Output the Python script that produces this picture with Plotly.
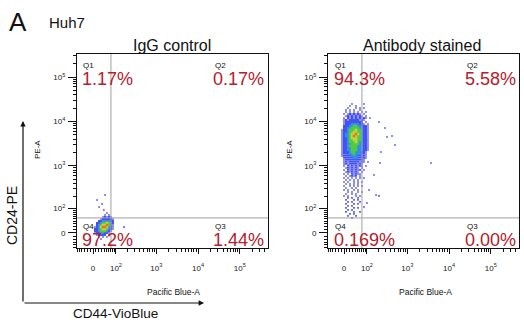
import numpy as np
import plotly.graph_objects as go

# ---------------------------------------------------------------- data
panel_titles = ["IgG control", "Antibody stained"]
quadrant_names = ["Q1", "Q2", "Q3", "Q4"]
igg_percent = ["1.17%", "0.17%", "1.44%", "97.2%"]
ab_percent = ["94.3%", "5.58%", "0.00%", "0.169%"]

# quadrant gate (fluorescence units)
gate_pacific_blue = 71
gate_pe = 53

major_tick_values = [0, 1e2, 1e3, 1e4, 1e5]
major_tick_text = ["0", "10<sup>2</sup>", "10<sup>3</sup>", "10<sup>4</sup>", "10<sup>5</sup>"]

# pseudo-colour density of the main populations, one character per bin
# ('.' empty, 1 = sparse ... 6 = densest); rows run from high PE to low PE
igg_density = [
    "......1.1...",
    ".....12121..",
    "....1222221.",
    "...22333322.",
    "..223445432.",
    "..234556431.",
    ".1235665321.",
    ".2234554321.",
    ".223444321..",
    ".12233221...",
    "..12222.1...",
    "...1.1.1....",
    "....1.......",
]

ab_density = [
    "......1.....1...",
    ".....1..1.......",
    "....1...1.1.1...",
    "...1.1.1..1.....",
    "...1.1.1.1.1.1..",
    "..1.1212121.1...",
    "...121212121.1..",
    "..1.2121212121..",
    "..12122222121...",
    "..1222222222.1..",
    "..12223333221.1.",
    "..2223344332221.",
    "..2233444433221.",
    ".12234445443221.",
    ".12234455443221.",
    ".12334556543221.",
    ".12334565443221.",
    ".12234555443221.",
    ".12234455443221.",
    ".12234445433221.",
    ".12233444433221.",
    ".12234444333221.",
    ".12233444333221.",
    ".12233444333221.",
    ".1222344333221..",
    ".1222334333221..",
    ".1222233322221..",
    "..222223322221..",
    "..12222222221...",
    "..12122222121.1.",
    "..1212222121....",
    "..1.21212121.1..",
    "...1212121.1....",
    "..1.2121212.1...",
    "...1212121.1....",
    "..1.1.21211.....",
    "...1.1212.1.....",
    "..1.1.1.1.1.1...",
    "...1.1.1.1......",
    "..1.1..1.1.1....",
    "...1.1.1.1......",
    "..1..1.1.1.1....",
    "...1..1.1.......",
    "..1.1..1.1......",
    "....1.1..1.1....",
    "...1..1.1.......",
    "..1.1...1.1.....",
    "....1.1..1......",
    "...1...1.1......",
    "....1.1...1.....",
    "...1...1.1......",
    "....1.1.........",
    "...1...1.1......",
    "....1.1.........",
    "...1...1..1.....",
    ".....1.1........",
    "....1...1.......",
    "......1.........",
]

# outlying single events (Pacific Blue-A, PE-A)
igg_outlier_pb = [44, 14, 32, 39, 52, 21, 164]
igg_outlier_pe = [216, 165, 131, 92, 76, 110, 19]
ab_outlier_pb = [207, 290, 325, 430, 508, 231, 219, 3700, 114, 174, 206, 100, 82, 121, 154]
ab_outlier_pe = [9700, 7110, 4460, 4700, 2940, 2050, 1160, 1160, 282, 216, 206, 139, 110, 11950, 620]

# ---------------------------------------------------------------- scales
W, H = 524, 324
BIEX_W = 30.7  # width of the linear region of the biexponential display


def biex(v):
    """Biexponential (arcsinh) display transform, in decades."""
    return np.arcsinh(np.asarray(v, dtype=float) / (2 * BIEX_W)) / np.log(10)


def px(x):
    return x / W


def py(y):
    return 1 - y / H


minor_vals = []
for dec in [1e2, 1e3, 1e4, 1e5]:
    for m in range(2, 10):
        minor_vals.append(m * dec)
for k in range(1, 10):
    minor_vals += [10 * k, -10 * k]

# pseudo-colour palette and dot size per density level
level_colors = {
    1: "#4646e6",
    2: "#2f3ff2",
    3: "#2f8ee8",
    4: "#52c84a",
    5: "#b9d83a",
    6: "#e8742e",
}
level_size = {1: 1.6, 2: 1.8, 3: 2.3, 4: 2.6, 5: 2.6, 6: 2.6}

# density bins: first-bin centre and bin width in display units
bin_dx = 0.0478
bin_dy = 0.0450
panels = [
    dict(density=igg_density, gx0=0.0, gy0=0.405,
         opb=igg_outlier_pb, ope=igg_outlier_pe, pct=igg_percent),
    dict(density=ab_density, gx0=-0.0957, gy0=2.905,
         opb=ab_outlier_pb, ope=ab_outlier_pe, pct=ab_percent),
]

x_range = [-0.383, 4.187]
y_range = [-0.338, 4.032]
box_left = [77, 328]
box_right = [268, 519]
box_top, box_bottom = 54, 248

fig = go.Figure()

for i, p in enumerate(panels):
    xa = "x" if i == 0 else "x2"
    ya = "y" if i == 0 else "y2"
    pts = {lv: ([], []) for lv in level_colors}
    for r, row in enumerate(p["density"]):
        for c, ch in enumerate(row):
            if ch == ".":
                continue
            pts[int(ch)][0].append(p["gx0"] + c * bin_dx)
            pts[int(ch)][1].append(p["gy0"] - r * bin_dy)
    # outlying events
    fig.add_trace(go.Scatter(
        x=biex(p["opb"]), y=biex(p["ope"]), mode="markers", xaxis=xa, yaxis=ya,
        marker=dict(symbol="square", size=level_size[1], color=level_colors[1], line_width=0),
        hoverinfo="skip", showlegend=False))
    for lv in sorted(level_colors):
        xs, ys = pts[lv]
        if not xs:
            continue
        fig.add_trace(go.Scatter(
            x=xs, y=ys, mode="markers", xaxis=xa, yaxis=ya,
            marker=dict(symbol="square", size=level_size[lv],
                        color=level_colors[lv], line_width=0),
            hoverinfo="skip", showlegend=False))

    # quadrant gate lines
    gx = float(biex(gate_pacific_blue))
    gy = float(biex(gate_pe))
    fig.add_trace(go.Scatter(x=[gx, gx], y=y_range, mode="lines", xaxis=xa, yaxis=ya,
                             line=dict(color="#a0a0a0", width=1),
                             hoverinfo="skip", showlegend=False))
    fig.add_trace(go.Scatter(x=x_range, y=[gy, gy], mode="lines", xaxis=xa, yaxis=ya,
                             line=dict(color="#a0a0a0", width=1),
                             hoverinfo="skip", showlegend=False))

axis_common = dict(
    showline=True, mirror=True, linecolor="#111", linewidth=1,
    showgrid=False, zeroline=False, ticks="outside", tickcolor="#111",
    tickmode="array", tickvals=list(biex(major_tick_values)), ticktext=major_tick_text,
    tickfont=dict(family="Liberation Sans", size=8, color="#222"),
    minor=dict(tickmode="array", tickvals=list(biex(minor_vals)), ticks="outside",
               ticklen=3, tickcolor="#111", tickwidth=1),
)

for i in range(2):
    sfx = "" if i == 0 else "2"
    fig.layout["xaxis" + sfx] = dict(
        axis_common, domain=[px(box_left[i]), px(box_right[i])], range=x_range,
        anchor="y" + sfx, ticklen=5, ticklabelstandoff=7)
    fig.layout["yaxis" + sfx] = dict(
        axis_common, domain=[py(box_bottom), py(box_top)], range=y_range,
        anchor="x" + sfx, ticklen=8, ticklabelstandoff=1)

red = "#b4202c"
ann = []


def text(x, y, t, size, color="#111", xanchor="center", angle=0):
    ann.append(dict(x=px(x), y=py(y), xref="paper", yref="paper", text=t,
                    showarrow=False, xanchor=xanchor, yanchor="middle",
                    textangle=angle,
                    font=dict(family="Liberation Sans", size=size, color=color)))


text(7, 22, "A", 26, xanchor="left")
text(47, 23, "Huh7", 15, xanchor="left")

offset = [0, 252]
title_x = [172, 422]
for i, p in enumerate(panels):
    o = offset[i]
    text(title_x[i], 46, panel_titles[i], 16)
    text(37 + o, 150, "PE-A", 8, angle=-90)
    text(173 + o, 292, "Pacific Blue-A", 8.5)
    # quadrant names
    text(81 + o, 65, quadrant_names[0], 8, xanchor="left")
    text(213 + o, 65, quadrant_names[1], 8, xanchor="left")
    text(213 + o, 226, quadrant_names[2], 8, xanchor="left")
    text(81 + o, 226, quadrant_names[3], 8, xanchor="left")
    # quadrant frequencies
    text(80 + o, 79, p["pct"][0], 18, red, xanchor="left")
    text(266 + o, 79, p["pct"][1], 18, red, xanchor="right")
    text(266 + o, 240, p["pct"][2], 18, red, xanchor="right")
    text(80 + o, 240, p["pct"][3], 18, red, xanchor="left")

text(12, 216, "CD24-PE", 14, angle=-90)
text(115, 313, "CD44-VioBlue", 13.5)

# marker axes
ann.append(dict(x=px(23), y=py(121), xref="paper", yref="paper", text="",
                showarrow=True, ax=0, ay=182, arrowhead=2, arrowsize=0.9,
                arrowwidth=1.2, arrowcolor="#111"))
ann.append(dict(x=px(204), y=py(303), xref="paper", yref="paper", text="",
                showarrow=True, ax=-181, ay=0, arrowhead=2, arrowsize=0.9,
                arrowwidth=1.2, arrowcolor="#111"))

fig.update_layout(
    width=W, height=H, margin=dict(l=0, r=0, t=0, b=0),
    paper_bgcolor="white", plot_bgcolor="white",
    annotations=ann, showlegend=False,
)

fig.write_html("out.html")
